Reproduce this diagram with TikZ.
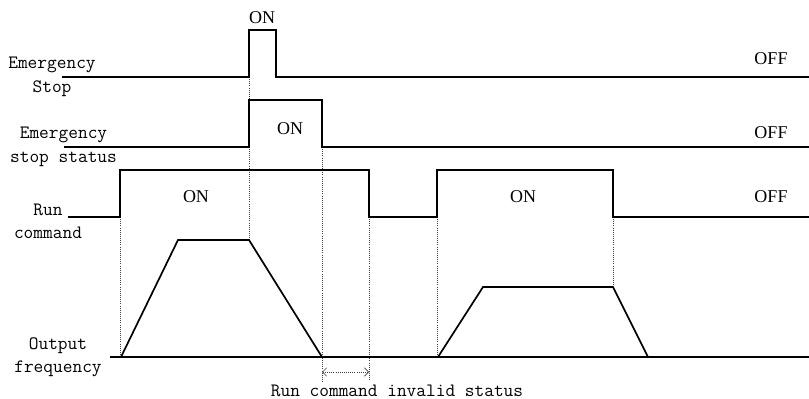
\documentclass[tikz,border=0pt]{standalone}
\usepackage{fontspec}
\newfontfamily\statefont{Liberation Serif}
\usetikzlibrary{arrows.meta}

\begin{document}
\begin{tikzpicture}[x=0.025cm, y=-0.025cm, >={Straight Barb[length=3pt,width=6pt]},
  every node/.style={font=\fontsize{13.4}{16.6}\selectfont\ttfamily, inner sep=0pt},
  sig/.style={line width=1.2pt, line join=miter},
  guide/.style={densely dotted, line width=0.5pt, black!75},
  state/.style={font=\fontsize{12.8}{15}\selectfont\statefont}]
  \useasboundingbox (0,0) rectangle (809,399);

  % dotted guide lines
  \draw[guide] (120,217) -- (120,357);
  \draw[guide] (249,77) -- (249,240);
  \draw[guide] (322,147) -- (322,382);
  \draw[guide] (369,217) -- (369,380);
  \draw[guide] (437,217) -- (437,357);
  \draw[guide] (613,217) -- (613,287);

  % Emergency stop
  \draw[sig] (62,77) -- (249,77) -- (249,30) -- (276,30) -- (276,77) -- (809,77);
  % Emergency stop status
  \draw[sig] (64,147) -- (249,147) -- (249,100) -- (322,100) -- (322,147) -- (809,147);
  % Run command
  \draw[sig] (68,217) -- (120,217) -- (120,170) -- (369,170) -- (369,217)
    -- (437,217) -- (437,170) -- (613,170) -- (613,217) -- (809,217);
  % Output frequency
  \draw[sig] (110,357) -- (809,357);
  \draw[sig] (121,357) -- (178,240) -- (249,240) -- (322,357);
  \draw[sig] (438,357) -- (483,287) -- (613,287) -- (648,357);

  % signal names
  \node[align=center] (estop) at (52,77) {Emergency\\Stop};
  \node[align=center] (estatus) at (63.5,147) {Emergency\\stop status};
  \node[align=center] (run) at (48,221) {Run\\command};
  \node[align=center] (freq) at (58,357) {Output\\frequency};

  % states
  \node[state] (on1) at (262,18) {ON};
  \node[state] (on2) at (290,129) {ON};
  \node[state] (on3) at (196,197) {ON};
  \node[state] (on4) at (523,197) {ON};
  \node[state] (off1) at (771,59) {OFF};
  \node[state] (off2) at (771,133) {OFF};
  \node[state] (off3) at (771,197) {OFF};

  % invalid interval
  \coordinate (inv1) at (322,372);
  \coordinate (inv2) at (369,372);
  \draw[guide, <->] (inv1) -- (inv2);
  \node (invalid) at (397,391) {Run command invalid status};
\end{tikzpicture}
\end{document}
